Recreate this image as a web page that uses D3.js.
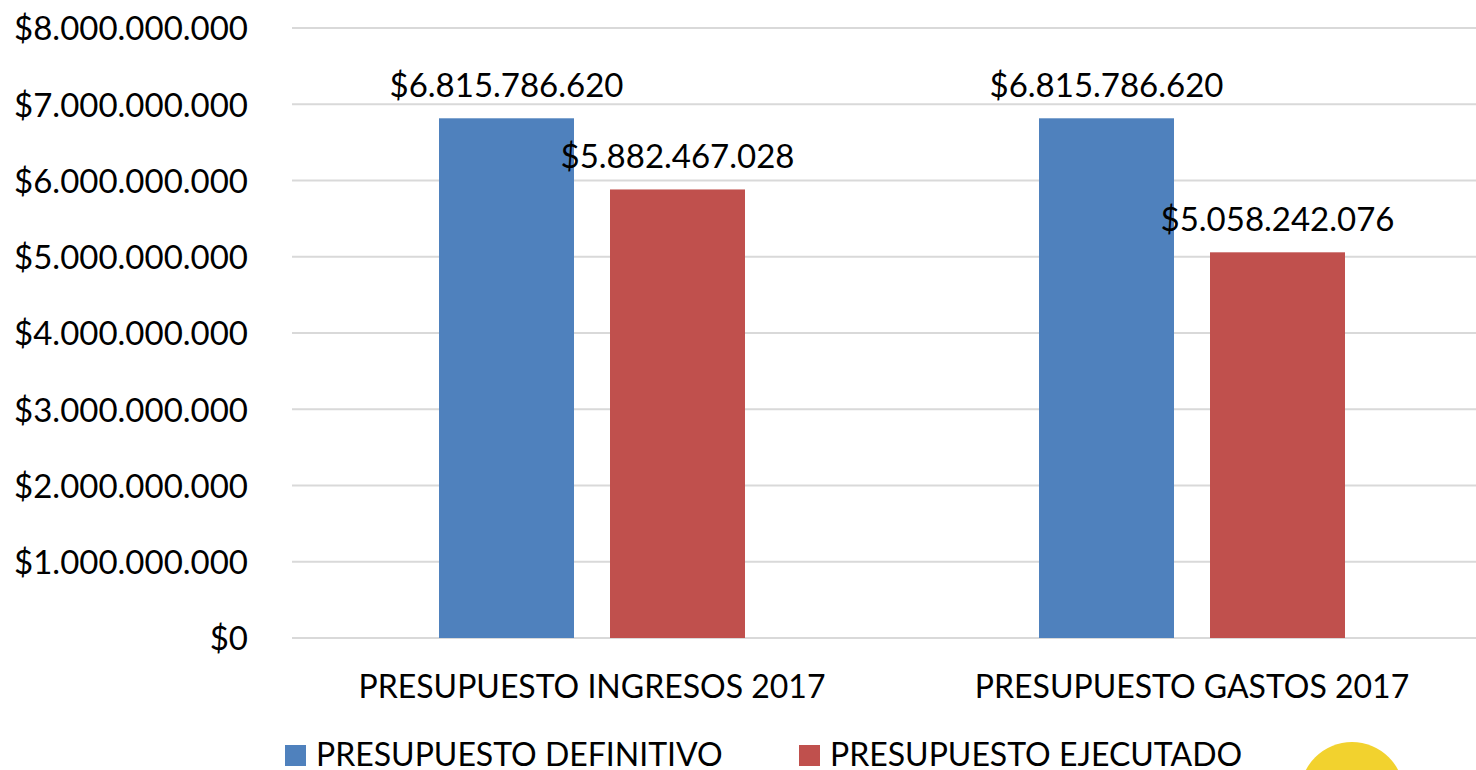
<!DOCTYPE HTML>
<html>
  <head>
    <style>
      body { margin: 0px; background: #fff; }
      text { font-family: Lato, "Open Sans", sans-serif; fill: #000; }
    </style>
  </head>
  <body>
    <script src="https://cdn.jsdelivr.net/npm/d3@7"></script>
    <script>

      // *** DATA ***
      var categories = ["PRESUPUESTO INGRESOS 2017", "PRESUPUESTO GASTOS 2017"];
      var seriesNames = ["PRESUPUESTO DEFINITIVO", "PRESUPUESTO EJECUTADO"];
      var definitivo = [6815786620, 6815786620];
      var ejecutado = [5882467028, 5058242076];
      var yTicks = [0, 1e9, 2e9, 3e9, 4e9, 5e9, 6e9, 7e9, 8e9];
      var colors = ["#4F81BD", "#C0504D"];

      // *** LAYOUT ***
      var W = 1476, H = 770;
      var mLeft = 292, mRight = 1492, mTop = 28, mBottom = 638;
      var fontSize = 32, numSize = 33;

      // money format with dots as thousand separators
      var es = d3.formatLocale({decimal: ",", thousands: ".", grouping: [3], currency: ["$", ""]});
      var money = es.format("$,.0f");

      var svg = d3.select("body").append("svg")
        .attr("width", W)
        .attr("height", H);

      var x0 = d3.scaleBand().domain(categories).range([mLeft, mRight]);
      var x1 = d3.scaleBand().domain(seriesNames).range([0, 306]).paddingInner(36 / 171);
      var y = d3.scaleLinear().domain([0, 8e9]).range([mBottom, mTop]);

      // gridlines
      svg.append("g").selectAll("line").data(yTicks).enter().append("line")
        .attr("x1", mLeft).attr("x2", W)
        .attr("y1", function(d){ return y(d); })
        .attr("y2", function(d){ return y(d); })
        .style("stroke", "#D9D9D9")
        .style("stroke-width", 2);

      // y axis labels
      var yAxis = d3.axisLeft(y).tickValues(yTicks).tickFormat(money).tickSize(0).tickPadding(0);
      var gy = svg.append("g").attr("transform", "translate(248,0)").call(yAxis);
      gy.select(".domain").remove();
      gy.selectAll("text")
        .attr("dy", "0.36em")
        .style("font-size", numSize + "px")
        .style("font-family", "Lato, sans-serif")
        .style("fill", "#000");

      // bars
      var rows = categories.map(function(c, i){
        return [
          {cat: c, s: seriesNames[0], v: definitivo[i], color: colors[0]},
          {cat: c, s: seriesNames[1], v: ejecutado[i], color: colors[1]}
        ];
      });

      var groups = svg.selectAll("g.cat").data(rows).enter().append("g")
        .attr("class", "cat")
        .attr("transform", function(d){ return "translate(" + (x0(d[0].cat) + (x0.bandwidth() - 306) / 2) + ",0)"; });

      groups.selectAll("rect").data(function(d){ return d; }).enter().append("rect")
        .attr("x", function(d){ return x1(d.s); })
        .attr("y", function(d){ return y(d.v); })
        .attr("width", x1.bandwidth())
        .attr("height", function(d){ return y(0) - y(d.v); })
        .style("fill", function(d){ return d.color; });

      groups.selectAll("text.val").data(function(d){ return d; }).enter().append("text")
        .attr("class", "val")
        .attr("x", function(d){ return x1(d.s) + x1.bandwidth() / 2; })
        .attr("y", function(d){ return y(d.v) - 21; })
        .style("text-anchor", "middle")
        .style("font-size", numSize + "px")
        .text(function(d){ return money(d.v); });

      // category labels
      svg.selectAll("text.catlabel").data(categories).enter().append("text")
        .attr("class", "catlabel")
        .attr("x", function(d){ return x0(d) + x0.bandwidth() / 2; })
        .attr("y", 698)
        .style("text-anchor", "middle")
        .style("font-size", fontSize + "px")
        .text(function(d){ return d; });

      // legend
      var legendX = [285, 799];
      var lg = svg.selectAll("g.legend").data(seriesNames).enter().append("g")
        .attr("class", "legend")
        .attr("transform", function(d, i){ return "translate(" + legendX[i] + ",745)"; });
      lg.append("rect")
        .attr("width", 21).attr("height", 21)
        .style("fill", function(d, i){ return colors[i]; });
      lg.append("text")
        .attr("x", 31).attr("y", 21)
        .style("font-size", fontSize + "px")
        .text(function(d){ return d; });

      // yellow circle at the bottom right (cut off)
      svg.append("circle")
        .attr("cx", 1352).attr("cy", 794).attr("r", 52)
        .style("fill", "#F2D22E");

    </script>
  </body>
</html>
